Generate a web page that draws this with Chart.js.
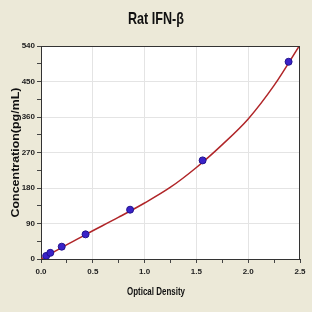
<!DOCTYPE html>
<html>
<head>
<meta charset="utf-8">
<script src="https://cdn.jsdelivr.net/npm/chart.js@4/dist/chart.umd.min.js"></script>
<style>
html,body{margin:0;padding:0;background:#ECE9D8;}
#wrap{width:312px;height:312px;}
</style>
</head>
<body>
<div id="wrap"><canvas id="c" width="312" height="312"></canvas></div>
<script>
// Data
const chartTitle = 'Rat IFN-\u03B2';
const xAxisTitle = 'Optical Density';
const yAxisTitle = 'Concentration(pg/mL)';
const odValues   = [0.05, 0.09, 0.20, 0.43, 0.86, 1.56, 2.39];
const concValues = [7.8, 15.6, 31.25, 62.5, 125, 250, 500];
const curveOD    = [0, 0.20, 0.43, 0.75, 1.00, 1.25, 1.50, 1.75, 2.00, 2.25, 2.50];
const curveConc  = [0, 29, 62, 106, 142, 182, 232, 290, 355, 440, 543];
const xTickLabels = ['0.0', '0.5', '1.0', '1.5', '2.0', '2.5'];
const yTickLabels = ['0', '90', '180', '270', '360', '450', '540'];

const FONT = '"Liberation Sans", Arial, sans-serif';

const pointData = odValues.map((x, i) => ({x: x, y: concValues[i]}));
const curveData = curveOD.map((x, i) => ({x: x, y: curveConc[i]}));

const isMajor = (v, step) => Math.abs(v / step - Math.round(v / step)) < 1e-6;

// draw text squeezed/stretched along its reading direction to a target length
function fitText(ctx, text, font, cx, cy, targetLen, rotation) {
  ctx.save();
  ctx.font = font;
  const w = ctx.measureText(text).width;
  ctx.translate(cx, cy);
  if (rotation) ctx.rotate(rotation);
  ctx.scale(targetLen / w, 1);
  ctx.textAlign = 'center';
  ctx.textBaseline = 'middle';
  ctx.fillText(text, 0, 0);
  ctx.restore();
}

const frame = {
  id: 'frame',
  beforeDraw(chart) {
    const {ctx, chartArea: a} = chart;
    ctx.save();
    ctx.fillStyle = '#ECE9D8';
    ctx.fillRect(0, 0, chart.width, chart.height);
    ctx.fillStyle = '#FFFFFF';
    ctx.fillRect(a.left, a.top, a.right - a.left, a.bottom - a.top);
    ctx.restore();
  },
  afterDraw(chart) {
    const {ctx, chartArea: a} = chart;
    ctx.save();
    ctx.strokeStyle = '#333333';
    ctx.lineWidth = 1;
    ctx.beginPath();
    ctx.moveTo(a.left, a.top + 0.5);
    ctx.lineTo(a.right, a.top + 0.5);
    ctx.moveTo(a.right - 0.5, a.top);
    ctx.lineTo(a.right - 0.5, a.bottom);
    ctx.stroke();
    ctx.fillStyle = '#111111';
    fitText(ctx, chartTitle, 'bold 17px ' + FONT, chart.width / 2, 19, 56, 0);
    fitText(ctx, xAxisTitle, 'bold 11px ' + FONT, chart.width / 2, 292, 58, 0);
    fitText(ctx, yAxisTitle, 'bold 10.5px ' + FONT, 16, (a.top + a.bottom) / 2, 130, -Math.PI / 2);
    ctx.restore();
  }
};

new Chart(document.getElementById('c'), {
  type: 'scatter',
  data: {
    datasets: [
      {
        type: 'scatter',
        data: pointData,
        pointStyle: 'circle',
        pointRadius: 3.5,
        pointHoverRadius: 3.5,
        backgroundColor: '#3A22C8',
        borderColor: '#22148E',
        borderWidth: 1
      },
      {
        type: 'line',
        data: curveData,
        showLine: true,
        borderColor: '#B02528',
        borderWidth: 1.5,
        pointRadius: 0,
        cubicInterpolationMode: 'monotone',
        fill: false
      }
    ]
  },
  options: {
    responsive: false,
    devicePixelRatio: 1,
    animation: false,
    layout: {padding: {left: 0, right: 12, top: 46, bottom: 0}},
    plugins: {
      legend: {display: false},
      tooltip: {enabled: false},
      title: {display: false}
    },
    scales: {
      x: {
        type: 'linear',
        min: 0,
        max: 2.5,
        afterFit(s) { s.height = 53; },
        ticks: {
          stepSize: 0.25,
          autoSkip: false,
          maxRotation: 0,
          padding: 4,
          color: '#222222',
          font: {family: FONT, size: 8, weight: 'bold'},
          callback: (v) => isMajor(v, 0.5) ? xTickLabels[Math.round(v / 0.5)] : ''
        },
        grid: {
          drawOnChartArea: true,
          tickLength: 4,
          color: (c) => (c.tick && isMajor(c.tick.value, 0.5) && c.tick.value > 0 && c.tick.value < 2.5) ? '#E4E4E4' : 'rgba(0,0,0,0)',
          tickColor: '#444444'
        },
        border: {display: true, color: '#333333', width: 1}
      },
      y: {
        type: 'linear',
        min: 0,
        max: 540,
        afterFit(s) { s.width = 41; },
        ticks: {
          stepSize: 45,
          autoSkip: false,
          padding: 2,
          color: '#222222',
          font: {family: FONT, size: 8, weight: 'bold'},
          callback: (v) => isMajor(v, 90) ? yTickLabels[Math.round(v / 90)] : ''
        },
        grid: {
          drawOnChartArea: true,
          tickLength: 4,
          color: (c) => (c.tick && isMajor(c.tick.value, 90) && c.tick.value > 0 && c.tick.value < 540) ? '#E4E4E4' : 'rgba(0,0,0,0)',
          tickColor: '#444444'
        },
        border: {display: true, color: '#333333', width: 1}
      }
    }
  },
  plugins: [frame]
});
</script>
</body>
</html>
